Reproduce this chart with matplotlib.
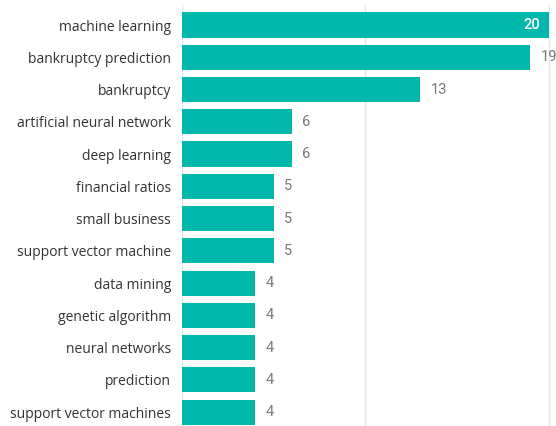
import matplotlib
matplotlib.use("Agg")
import matplotlib.pyplot as plt

termos = ["machine learning", "bankruptcy prediction", "bankruptcy",
          "artificial neural network", "deep learning", "financial ratios",
          "small business", "support vector machine", "data mining",
          "genetic algorithm", "neural networks", "prediction",
          "support vector machines"]
contagens = [20, 19, 13, 6, 6, 5, 5, 5, 4, 4, 4, 4, 4]

cor_barra = "#01B8AA"

fig = plt.figure(figsize=(5.56, 4.26), dpi=100)
ax = fig.add_axes([182 / 556, 0, 374 / 556, 421 / 426])

posicoes = list(range(len(termos)))
ax.barh(posicoes, contagens, height=0.78, color=cor_barra, zorder=2)

ax.set_xlim(0, 20.4)
ax.set_ylim(12.43, -0.62)
ax.set_yticks(posicoes)
ax.set_yticklabels(termos, fontsize=10, color="#333333", family="Open Sans")
ax.tick_params(axis="y", length=0, pad=8)
ax.set_xticks([0, 10, 20])
ax.tick_params(axis="x", length=0, labelbottom=False)
ax.grid(axis="x", color="#e6e6e6", linewidth=1, zorder=0)
for lado in ax.spines.values():
    lado.set_visible(False)

# rotulos de valor
for p, v in zip(posicoes, contagens):
    if v == max(contagens):
        ax.text(v - 0.45, p, str(v), ha="right", va="center", fontsize=10.5,
                color="white", fontweight="medium", family="Roboto")
    else:
        ax.text(v + 0.55, p, str(v), ha="left", va="center", fontsize=10.5,
                color="#777777", family="Roboto", clip_on=False)

fig.savefig("out.png", dpi=100)
